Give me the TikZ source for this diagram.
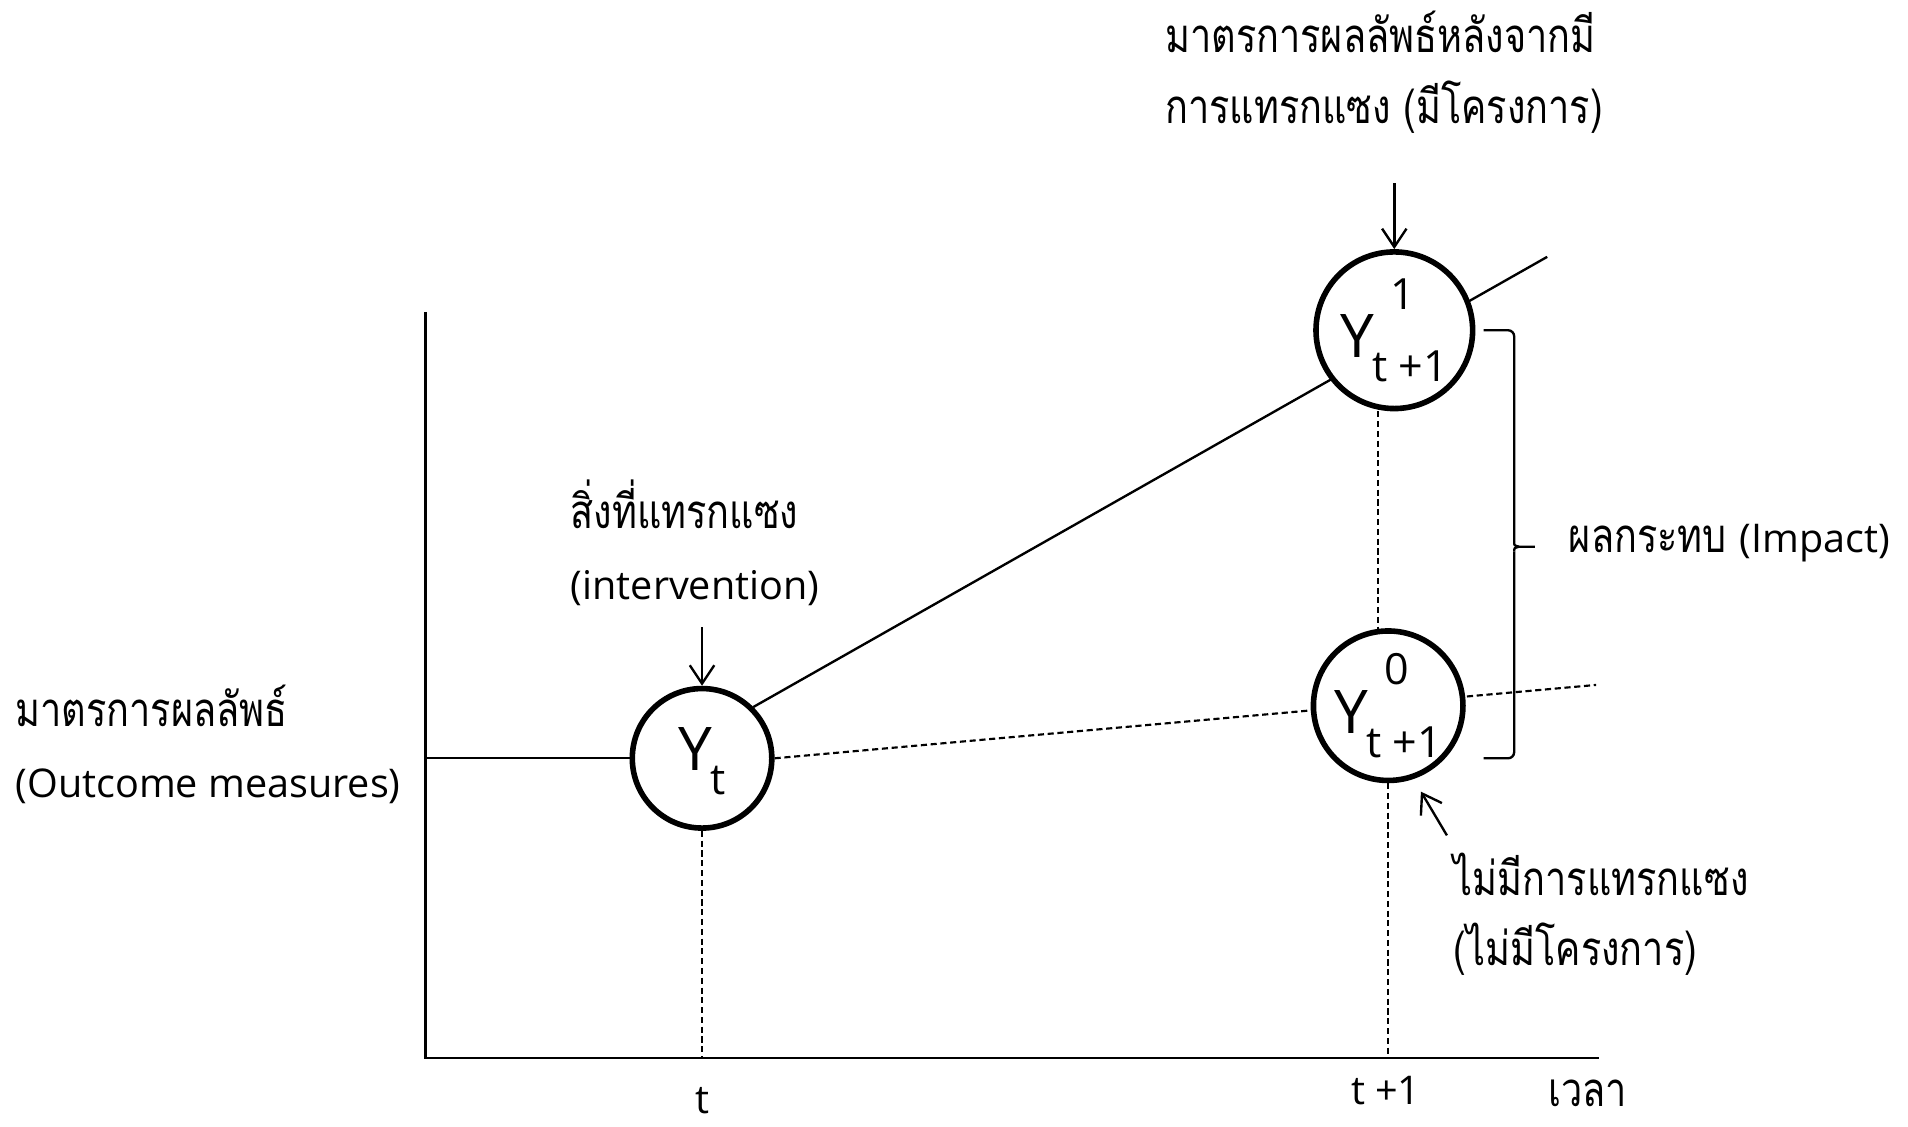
\documentclass[tikz,border=0pt]{standalone}
\usepackage{fontspec}
\setmainfont{Open Sans}
\newfontfamily\thaifont[Script=Thai,FakeStretch=0.8]{Loma}
\usetikzlibrary{arrows.meta,calc,backgrounds}
\newcommand\ylab[2]{\fontsize{14}{14}\selectfont Y\kern-0.03em\makebox[0pt][l]{\hspace{0.3em}\raisebox{0.8em}{\fontsize{10}{10}\selectfont #1}}\raisebox{-0.4em}{\fontsize{10}{10}\selectfont #2}}
\tikzset{
  ycircle/.style={circle,draw,line width=1.3pt,fill=white,inner sep=0pt},
  plain/.style={line width=0.55pt},
  dashline/.style={line width=0.5pt,dash pattern=on 0.5mm off 0.3mm},
  arr/.style={line width=0.55pt,-{Straight Barb[length=1.5mm,width=2mm]}},
  thtext/.style={anchor=base west,inner sep=0pt,font=\thaifont\fontsize{11}{13}\selectfont},
  latext/.style={anchor=base west,inner sep=0pt,font=\fontsize{9.2}{12}\selectfont},
}
\begin{document}
\begin{tikzpicture}[x=0.01cm,y=-0.01cm]
\useasboundingbox (0,0) rectangle (1560,921);
% circles
\node[ycircle,minimum size=1.14cm] (Yt) at (574,620) {\ylab{}{t}};
\node[ycircle,minimum size=1.28cm] (Y1) at (1140,270) {\ylab{1}{t +1}};
\node[ycircle,minimum size=1.16cm] (Y0) at (1135,577) {\ylab{0}{t +1}};
% axes
\coordinate (O) at (348,865);
\coordinate (ytop) at (348,255);
\coordinate (xend) at (1307,865);
\draw[plain] (ytop) -- (O) -- (xend);
\draw[plain] (O |- Yt) -- (Yt.west);
% lines behind circles
\coordinate (endhi) at (1265,210);
\coordinate (endlo) at (1305,560);
\begin{scope}[on background layer]
\draw[plain] (Yt.45) -- (endhi);
\draw[dashline] (Yt.east) -- (endlo);
\end{scope}
% dashed verticals
\draw[dashline] (Yt.south) -- (Yt.south |- O);
\draw[dashline] (Y0.south) -- (Y0.south |- O);
\draw[dashline] ($(Y1.south)+(-13,0)$) -- ($(Y0.north)+(-8,1)$);
% arrows
\coordinate (aYt) at (574,513);
\coordinate (aY1) at (1140,150);
\coordinate (aY0) at (1183,683);
\draw[arr] (aYt) -- (Yt.north);
\draw[arr] (aY1) -- (Y1.north);
\draw[arr,shorten >=0.12cm] (aY0) -- (Y0.-71);
% bracket
\draw[plain,rounded corners=0.05cm] (1213,270) -- (1238,270) -- (1238,443);
\draw[plain] (1238,443) .. controls (1238,446) .. (1242,447) -- (1255,447);
\draw[plain] (1242,447) .. controls (1238,448) .. (1238,451);
\draw[plain,rounded corners=0.05cm] (1238,451) -- (1238,620) -- (1213,620);
% texts
\node[thtext] (top1) at (952,43) {มาตรการผลลัพธ์หลังจากมี};
\node[thtext] (top2) at (952,101) {การแทรกแซง (มีโครงการ)};
\node[thtext] (int1) at (466,432) {สิ่งที่แทรกแซง};
\node[latext] (int2) at (466,490) {(intervention)};
\node[thtext] (out1) at (12,594) {มาตรการผลลัพธ์};
\node[latext] (out2) at (12,652) {(Outcome measures)};
\node[thtext] (imp) at (1282,452) {ผลกระทบ {\rmfamily\fontsize{9.2}{12}\selectfont (Impact)}};
\node[thtext] (no1) at (1188,732) {ไม่มีการแทรกแซง};
\node[thtext] (no2) at (1188,789) {(ไม่มีโครงการ)};
\node[latext,anchor=base] (tlab) at (574,910) {t};
\node[latext,anchor=base] (t1lab) at (1133,903) {t +1};
\node[thtext,anchor=base] (time) at (1298,905) {เวลา};
\end{tikzpicture}
\end{document}
